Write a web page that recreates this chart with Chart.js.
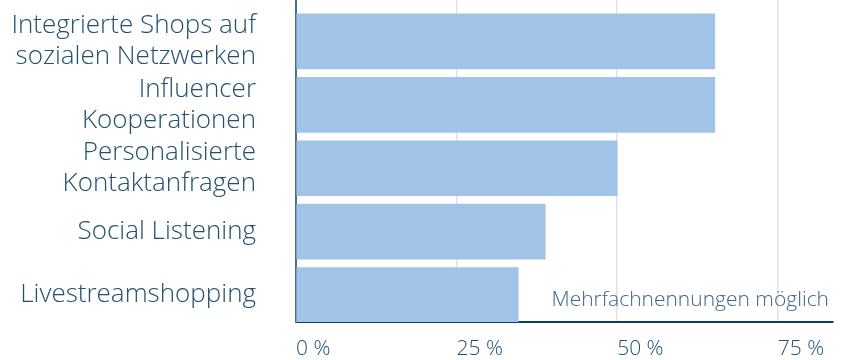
<!DOCTYPE html>
<html lang="de">
<head>
<meta charset="utf-8">
<script src="https://cdn.jsdelivr.net/npm/chart.js@4"></script>
<style>
  html, body { margin: 0; padding: 0; background: #fff; }
  #wrap { width: 844px; height: 360px; position: relative; }
</style>
</head>
<body>
<div id="wrap"><canvas id="chart"></canvas></div>
<script>
// ================================
// DATA
// ================================
const categories = [
  ['Integrierte Shops auf', 'sozialen Netzwerken'],
  ['Influencer', 'Kooperationen'],
  ['Personalisierte', 'Kontaktanfragen'],
  'Social Listening',
  'Livestreamshopping'
];
const shares = [65.2, 65.2, 50, 38.8, 34.6];
const xTicks = [0, 25, 50, 75];
const note = 'Mehrfachnennungen möglich';

// ================================
// STYLE
// ================================
const FONT = '"Open Sans", "DejaVu Sans", sans-serif';
const TEXT = '#24506e';
const BAR = '#a2c3e8';

// note in the lower right corner of the plot
const notePlugin = {
  id: 'note',
  afterDraw(chart) {
    const { ctx, chartArea } = chart;
    ctx.save();
    ctx.font = `300 21px ${FONT}`;
    ctx.fillStyle = '#3f6881';
    ctx.textAlign = 'right';
    ctx.textBaseline = 'alphabetic';
    ctx.fillText(note, chartArea.right - 4, chartArea.bottom - 16);
    ctx.restore();
  }
};

// no extra room for overhanging labels
function noPadding(scale) {
  scale.paddingTop = 0;
  scale.paddingBottom = 0;
  scale.paddingLeft = 0;
  scale.paddingRight = 0;
}

new Chart(document.getElementById('chart'), {
  type: 'bar',
  data: {
    datasets: [{
      data: shares.map((v, i) => ({ x: v, y: i })),
      backgroundColor: BAR,
      borderWidth: 0,
      barThickness: 55
    }]
  },
  options: {
    indexAxis: 'y',
    responsive: true,
    maintainAspectRatio: false,
    animation: false,
    layout: { padding: { top: 0, right: 11, bottom: 0, left: 0 } },
    plugins: {
      legend: { display: false },
      tooltip: { enabled: false }
    },
    scales: {
      x: {
        type: 'linear',
        min: 0,
        max: 83.6,
        offset: false,
        afterBuildTicks: (scale) => { scale.ticks = xTicks.map(v => ({ value: v })); },
        afterFit: (scale) => { scale.height = 38; noPadding(scale); },
        grid: { color: '#e1e1e8', lineWidth: 1.5, drawTicks: false, offset: false },
        border: { color: '#0d3b5a', width: 2 },
        ticks: {
          align: 'start',
          padding: 14,
          color: TEXT,
          font: { family: FONT, size: 21, weight: 300 },
          callback: (v) => `${v} %`
        }
      },
      y: {
        type: 'linear',
        reverse: true,
        min: -0.654,
        max: 4.426,
        offset: false,
        afterBuildTicks: (scale) => { scale.ticks = categories.map((_, i) => ({ value: i })); },
        afterFit: (scale) => { scale.width = 296; noPadding(scale); },
        grid: { display: false, drawTicks: false, offset: false },
        border: { color: '#4d6f86', width: 2 },
        ticks: {
          autoSkip: false,
          padding: 40,
          color: TEXT,
          font: { family: FONT, size: 26, weight: 300 },
          callback: (v) => categories[v]
        }
      }
    }
  },
  plugins: [notePlugin]
});
</script>
</body>
</html>
